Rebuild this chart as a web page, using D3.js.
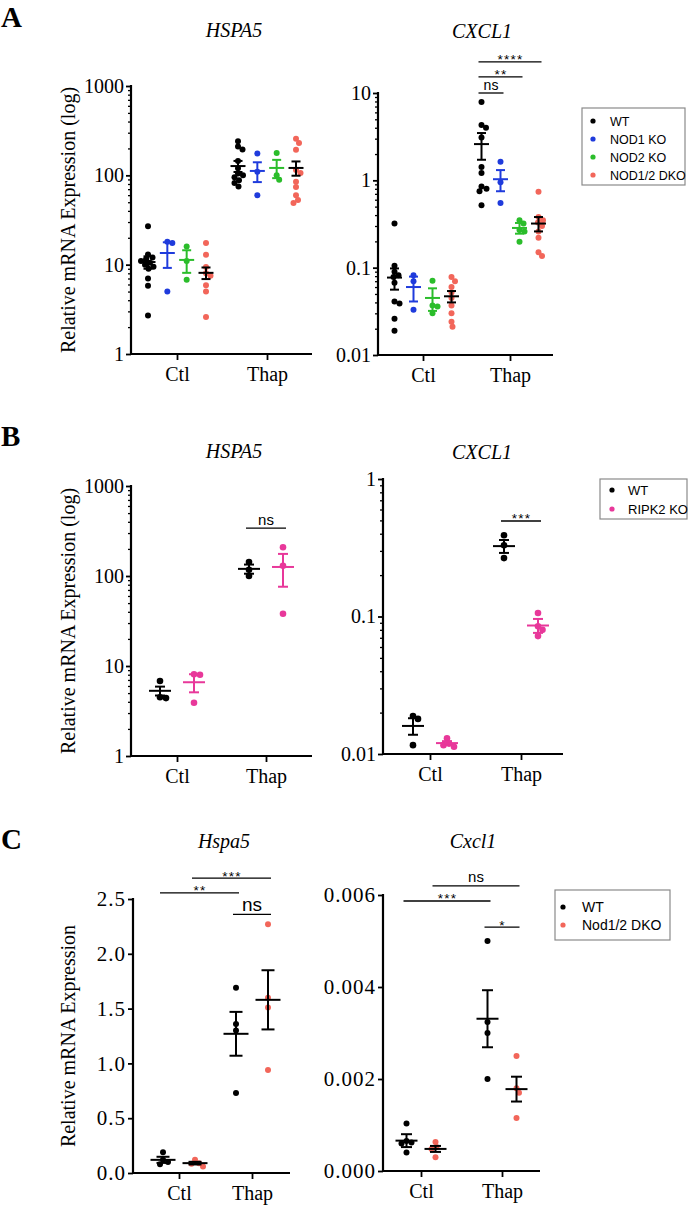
<!DOCTYPE html>
<html><head><meta charset="utf-8">
<script src="https://cdn.jsdelivr.net/npm/d3@7"></script>
<style>
body{margin:0;background:#fff;}
svg text{font-family:"Liberation Serif","Times New Roman",serif;fill:#000;}
</style></head><body>
<svg id="fig" width="693" height="1205"></svg>
<script>
// ---------------- DATA ----------------
const conditions = ["Ctl", "Thap"];
const groupsA = ["WT", "NOD1 KO", "NOD2 KO", "NOD1/2 DKO"];
const groupsB = ["WT", "RIPK2 KO"];
const groupsC = ["WT", "Nod1/2 DKO"];

const colorsA = ["#000000", "#1f3bdc", "#2bbd2b", "#f2665a"];
const errColorsA = ["#000000", "#1f3bdc", "#2bbd2b", "#000000"];
const colorsB = ["#000000", "#e8389a"];
const errColorsB = ["#000000", "#e8389a"];
const colorsC = ["#000000", "#f2665a"];
const errColorsC = ["#000000", "#000000"];

// Panel A – HSPA5 (points[condition][group])
const aHspa5Points = [
  [[27, 13, 12, 11.5, 11, 10.5, 10, 9.5, 9, 7, 5.8, 2.7], [18, 17.5, 5], [16, 11, 6.8], [17.5, 12.9, 9.4, 8, 7.5, 5.9, 5, 2.6]],
  [[240, 210, 195, 145, 120, 105, 100, 95, 88, 82, 75], [175, 110, 60], [178, 100, 89], [256, 230, 193, 115, 106, 85, 74, 60, 53, 49]]
];
const aHspa5Mean = [[10.7, 13.5, 11.3, 8.1], [127, 112, 121, 121]];
const aHspa5Sem = [[1.7, 4.3, 3.2, 1.2], [18, 28, 28, 22]];

// Panel A – CXCL1
const aCxcl1Points = [
  [[0.32, 0.105, 0.09, 0.082, 0.078, 0.067, 0.041, 0.039, 0.026, 0.019], [0.082, 0.07, 0.033], [0.071, 0.037, 0.036, 0.030], [0.078, 0.07, 0.06, 0.052, 0.045, 0.037, 0.03, 0.024, 0.021]],
  [[7.9, 4.3, 4.0, 3.1, 1.42, 1.21, 0.85, 0.8, 0.75, 0.52], [1.63, 0.95, 0.55], [0.35, 0.32, 0.27, 0.26, 0.198], [0.74, 0.38, 0.35, 0.33, 0.3, 0.26, 0.22, 0.15, 0.136]]
];
const aCxcl1Mean = [[0.077, 0.060, 0.045, 0.047], [2.6, 1.03, 0.285, 0.32]];
const aCxcl1Sem = [[0.021, 0.019, 0.013, 0.007], [0.88, 0.28, 0.04, 0.06]];

// Panel B – HSPA5
const bHspa5Points = [[[6.8, 4.5, 4.4], [8.1, 8.0, 3.9]], [[143, 117, 100], [209, 130, 38]]];
const bHspa5Mean = [[5.3, 6.6], [120, 126]];
const bHspa5Sem = [[0.6, 1.5], [14, 50]];

// Panel B – CXCL1
const bCxcl1Points = [[[0.0189, 0.018, 0.0116], [0.013, 0.0119, 0.0116, 0.0113]], [[0.39, 0.33, 0.266], [0.106, 0.085, 0.08, 0.072]]];
const bCxcl1Mean = [[0.016, 0.012], [0.325, 0.086]];
const bCxcl1Sem = [[0.0022, 0.0004], [0.035, 0.01]];

// Panel C – Hspa5
const cHspa5Points = [[[0.19, 0.12, 0.1, 0.08], [0.12, 0.09, 0.085, 0.06]], [[1.69, 1.36, 1.30, 0.73], [2.27, 1.6, 1.51, 0.94]]];
const cHspa5Mean = [[0.12, 0.09], [1.27, 1.58]];
const cHspa5Sem = [[0.028, 0.012], [0.2, 0.27]];

// Panel C – Cxcl1
const cCxcl1Points = [[[0.00103, 0.00065, 0.00062, 0.0006, 0.0004], [0.00063, 0.00052, 0.00048, 0.0003]], [[0.005, 0.00324, 0.003, 0.002], [0.0025, 0.0018, 0.0017, 0.00115]]];
const cCxcl1Mean = [[0.00066, 0.00048], [0.00331, 0.00178]];
const cCxcl1Sem = [[0.00014, 0.000065], [0.00062, 0.00027]];

// Tick values
const logTicks1000 = [1, 10, 100, 1000];
const logTicks10 = [0.01, 0.1, 1, 10];
const logTicks1 = [0.01, 0.1, 1];
const linTicksHspa5 = [0, 0.5, 1.0, 1.5, 2.0, 2.5];
const linTicksCxcl1 = [0, 0.002, 0.004, 0.006];

// Significance annotations: [condition, group] pairs, y value, label
const sigACxcl1 = [
  {from: ["Thap", "WT"], to: ["Thap", "NOD1 KO"], y: 10, label: "ns"},
  {from: ["Thap", "WT"], to: ["Thap", "NOD2 KO"], y: 15.3, label: "**"},
  {from: ["Thap", "WT"], to: ["Thap", "NOD1/2 DKO"], y: 22.7, label: "****"}
];
const sigBHspa5 = [{from: ["Thap", "WT"], to: ["Thap", "RIPK2 KO"], y: 341, label: "ns"}];
const sigBCxcl1 = [{from: ["Thap", "WT"], to: ["Thap", "RIPK2 KO"], y: 0.495, label: "***"}];
const sigCHspa5 = [
  {from: ["Ctl", "WT"], to: ["Thap", "WT"], y: 2.555, label: "**"},
  {from: ["Ctl", "Nod1/2 DKO"], to: ["Thap", "Nod1/2 DKO"], y: 2.69, label: "***"},
  {from: ["Thap", "WT"], to: ["Thap", "Nod1/2 DKO"], y: 2.36, label: "ns"}
];
const sigCCxcl1 = [
  {from: ["Ctl", "Nod1/2 DKO"], to: ["Thap", "Nod1/2 DKO"], y: 0.0062, label: "ns"},
  {from: ["Ctl", "WT"], to: ["Thap", "WT"], y: 0.00587, label: "***"},
  {from: ["Thap", "WT"], to: ["Thap", "Nod1/2 DKO"], y: 0.0053, label: "*"}
];

// ---------------- DRAWING ----------------
const svg = d3.select("#fig");
const SANS = '"Liberation Sans", Arial, sans-serif';

function swarm(vals, y, r) {
  const items = vals.map(v => ({v, py: y(v)})).sort((a, b) => a.py - b.py);
  const placed = [];
  const minD = 2 * r * 0.85;
  items.forEach(it => {
    let done = false;
    for (let k = 0; !done; k += 0.5) {
      for (const s of (k === 0 ? [0] : [k, -k])) {
        if (placed.every(p => (p.dx - s) ** 2 + (p.py - it.py) ** 2 >= minD * minD)) {
          it.dx = s; done = true; break;
        }
      }
    }
    placed.push(it);
  });
  return items;
}

function chart(cfg) {
  const g = svg.append("g");
  const y = (cfg.log ? d3.scaleLog() : d3.scaleLinear()).domain(cfg.domain).range([cfg.yBot, cfg.yTop]);
  const xc = d3.scalePoint().domain(conditions).range(cfg.condX);
  const xg = d3.scalePoint().domain(cfg.groups).range([-cfg.spread, cfg.spread]);
  const pos = (c, gr) => xc(c) + xg(gr);

  // title
  g.append("text").attr("x", cfg.titleX).attr("y", cfg.titleY).attr("text-anchor", "middle")
    .style("font-style", "italic").style("font-size", "20px").text(cfg.title);

  // y label
  if (cfg.yLabel) {
    g.append("text").attr("transform", `translate(75,${(cfg.yTop + cfg.yBot) / 2}) rotate(-90)`)
      .attr("text-anchor", "middle").style("font-size", "20px").text(cfg.yLabel);
  }

  // y axis
  const ya = g.append("g").attr("transform", `translate(${cfg.x0},0)`)
    .call(d3.axisLeft(y).tickValues(cfg.ticks).tickFormat(cfg.fmt).tickSize(5).tickSizeOuter(0).tickPadding(2));
  ya.select(".domain").remove();
  ya.selectAll(".tick line").attr("stroke-width", 1.8);
  ya.selectAll("text").style("font-size", cfg.tickFont || "20px").style("font-family", '"Liberation Serif", serif')
    .style("letter-spacing", cfg.tickLs || "0px");
  if (cfg.log) {
    const minor = [];
    const lo = Math.log10(cfg.domain[0]), hi = Math.log10(cfg.domain[1]);
    for (let e = lo; e < hi; e++) for (let m = 2; m <= 9; m++) minor.push(m * Math.pow(10, e));
    const ym = g.append("g").attr("transform", `translate(${cfg.x0},0)`)
      .call(d3.axisLeft(y).tickValues(minor).tickFormat("").tickSize(3).tickSizeOuter(0));
    ym.select(".domain").remove();
    ym.selectAll(".tick line").attr("stroke-width", 1.3);
  }
  g.append("line").attr("x1", cfg.x0).attr("x2", cfg.x0).attr("y1", cfg.yTop - 1).attr("y2", cfg.yBot + 1)
    .attr("stroke", "#000").attr("stroke-width", 2.2);

  // x axis
  const xa = g.append("g").attr("transform", `translate(0,${cfg.yBot})`)
    .call(d3.axisBottom(xc).tickSize(6).tickSizeOuter(0).tickPadding(7));
  xa.select(".domain").remove();
  xa.selectAll(".tick line").attr("stroke-width", 1.8);
  xa.selectAll("text").style("font-size", "20px").style("font-family", '"Liberation Serif", serif');
  g.append("line").attr("x1", cfg.x0 - 1).attr("x2", cfg.x1).attr("y1", cfg.yBot).attr("y2", cfg.yBot)
    .attr("stroke", "#000").attr("stroke-width", 2.2);

  // points
  conditions.forEach((c, ci) => {
    cfg.groups.forEach((gr, gi) => {
      const items = swarm(cfg.points[ci][gi], y, cfg.r);
      g.selectAll(null).data(items).enter().append("circle")
        .attr("cx", d => pos(c, gr) + d.dx).attr("cy", d => d.py).attr("r", cfg.r)
        .attr("fill", cfg.colors[gi]);
    });
  });
  // error bars
  conditions.forEach((c, ci) => {
    cfg.groups.forEach((gr, gi) => {
      const m = cfg.means[ci][gi], s = cfg.sems[ci][gi], cx = pos(c, gr);
      const col = cfg.errColors[gi];
      const eg = g.append("g").attr("stroke", col).attr("stroke-width", 2).attr("fill", "none");
      eg.append("line").attr("x1", cx).attr("x2", cx).attr("y1", y(m + s)).attr("y2", y(m - s));
      eg.append("line").attr("x1", cx - cfg.capHalf).attr("x2", cx + cfg.capHalf).attr("y1", y(m + s)).attr("y2", y(m + s));
      eg.append("line").attr("x1", cx - cfg.capHalf).attr("x2", cx + cfg.capHalf).attr("y1", y(m - s)).attr("y2", y(m - s));
      eg.append("line").attr("x1", cx - cfg.meanHalf).attr("x2", cx + cfg.meanHalf).attr("y1", y(m)).attr("y2", y(m));
    });
  });

  // significance bars
  (cfg.sigs || []).forEach(sg => {
    const xa1 = pos(sg.from[0], sg.from[1]) - 3, xa2 = pos(sg.to[0], sg.to[1]) + 3, yy = y(sg.y);
    g.append("line").attr("x1", xa1).attr("x2", xa2).attr("y1", yy).attr("y2", yy)
      .attr("stroke", "#000").attr("stroke-width", 1.3);
    const isNs = sg.label === "ns";
    g.append("text").attr("x", (xa1 + xa2) / 2 + (isNs ? 0 : 0.5)).attr("y", isNs ? yy - 3.5 : yy + 2.5)
      .attr("text-anchor", "middle")
      .style("font-family", SANS)
      .style("font-size", isNs ? (cfg.nsFont || "15px") : "13.5px")
      .style("letter-spacing", isNs ? "0px" : "1.2px")
      .text(sg.label);
  });
}

function legend(cfg) {
  const g = svg.append("g");
  g.append("rect").attr("x", cfg.x).attr("y", cfg.y).attr("width", cfg.w).attr("height", cfg.h)
    .attr("fill", "#fff").attr("stroke", "#8a8a8a").attr("stroke-width", 1.2);
  cfg.labels.forEach((l, i) => {
    const yy = cfg.y + cfg.first + i * cfg.step;
    g.append("circle").attr("cx", cfg.x + cfg.dotDx).attr("cy", yy).attr("r", 2.6).attr("fill", cfg.colors[i]);
    g.append("text").attr("x", cfg.x + cfg.textDx).attr("y", yy).attr("dy", "0.36em")
      .style("font-family", SANS).style("font-size", cfg.font).text(l);
  });
}

function letter(t, yy) {
  svg.append("text").attr("x", 1).attr("y", yy).style("font-weight", "bold").style("font-size", "29px").text(t);
}

const fmtLog = d3.format("~g");

// Panel A
letter("A", 27);
chart({log: true, domain: [1, 1000], yTop: 86, yBot: 354, x0: 131, x1: 312, condX: [177, 267], spread: 29,
  groups: groupsA, points: aHspa5Points, means: aHspa5Mean, sems: aHspa5Sem, colors: colorsA, errColors: errColorsA,
  title: "HSPA5", titleX: 234, titleY: 37, yLabel: "Relative mRNA Expression (log)", ticks: logTicks1000, fmt: fmtLog,
  r: 3, meanHalf: 7.5, capHalf: 4.5});
chart({log: true, domain: [0.01, 10], yTop: 93, yBot: 355, x0: 378, x1: 553, condX: [423, 510], spread: 28.5,
  groups: groupsA, points: aCxcl1Points, means: aCxcl1Mean, sems: aCxcl1Sem, colors: colorsA, errColors: errColorsA,
  title: "CXCL1", titleX: 482, titleY: 38, ticks: logTicks10, fmt: fmtLog, sigs: sigACxcl1, nsFont: "14px",
  r: 3, meanHalf: 7.5, capHalf: 4.5});
legend({x: 582, y: 108, w: 103, h: 77, first: 13, step: 18, dotDx: 11, textDx: 28, font: "12.5px", labels: groupsA, colors: colorsA});

// Panel B
letter("B", 446);
chart({log: true, domain: [1, 1000], yTop: 486, yBot: 756, x0: 131, x1: 312, condX: [177, 266], spread: 17,
  groups: groupsB, points: bHspa5Points, means: bHspa5Mean, sems: bHspa5Sem, colors: colorsB, errColors: errColorsB,
  title: "HSPA5", titleX: 234, titleY: 458, yLabel: "Relative mRNA Expression (log)", ticks: logTicks1000, fmt: fmtLog,
  sigs: sigBHspa5, nsFont: "15px", r: 3.3, meanHalf: 11, capHalf: 5});
chart({log: true, domain: [0.01, 1], yTop: 479, yBot: 754, x0: 383, x1: 563, condX: [430, 521], spread: 17,
  groups: groupsB, points: bCxcl1Points, means: bCxcl1Mean, sems: bCxcl1Sem, colors: colorsB, errColors: errColorsB,
  title: "CXCL1", titleX: 482, titleY: 459, ticks: logTicks1, fmt: fmtLog, sigs: sigBCxcl1,
  r: 3.3, meanHalf: 11, capHalf: 5});
legend({x: 600, y: 479, w: 87, h: 40, first: 11, step: 19, dotDx: 12, textDx: 28, font: "13px", labels: groupsB, colors: colorsB});

// Panel C
letter("C", 849);
chart({log: false, domain: [0, 2.5], yTop: 899, yBot: 1173, x0: 133, x1: 290, condX: [179, 252], spread: 16,
  groups: groupsC, points: cHspa5Points, means: cHspa5Mean, sems: cHspa5Sem, colors: colorsC, errColors: errColorsC,
  title: "Hspa5", titleX: 224, titleY: 848, yLabel: "Relative mRNA Expression", ticks: linTicksHspa5, fmt: d3.format(".1f"),
  tickFont: "21px", tickLs: "1px", sigs: sigCHspa5, nsFont: "19px", r: 3, meanHalf: 12.5, capHalf: 6.5});
chart({log: false, domain: [0, 0.006], yTop: 895, yBot: 1171, x0: 383, x1: 540, condX: [421, 502], spread: 14.5,
  groups: groupsC, points: cCxcl1Points, means: cCxcl1Mean, sems: cCxcl1Sem, colors: colorsC, errColors: errColorsC,
  title: "Cxcl1", titleX: 473, titleY: 848, ticks: linTicksCxcl1, fmt: d3.format(".3f"),
  tickFont: "21px", tickLs: "1px", sigs: sigCCxcl1, nsFont: "15px", r: 3, meanHalf: 11, capHalf: 5.5});
legend({x: 555, y: 890, w: 115, h: 50, first: 17, step: 18, dotDx: 8, textDx: 27, font: "14px", labels: groupsC, colors: colorsC});
</script>
</body></html>
